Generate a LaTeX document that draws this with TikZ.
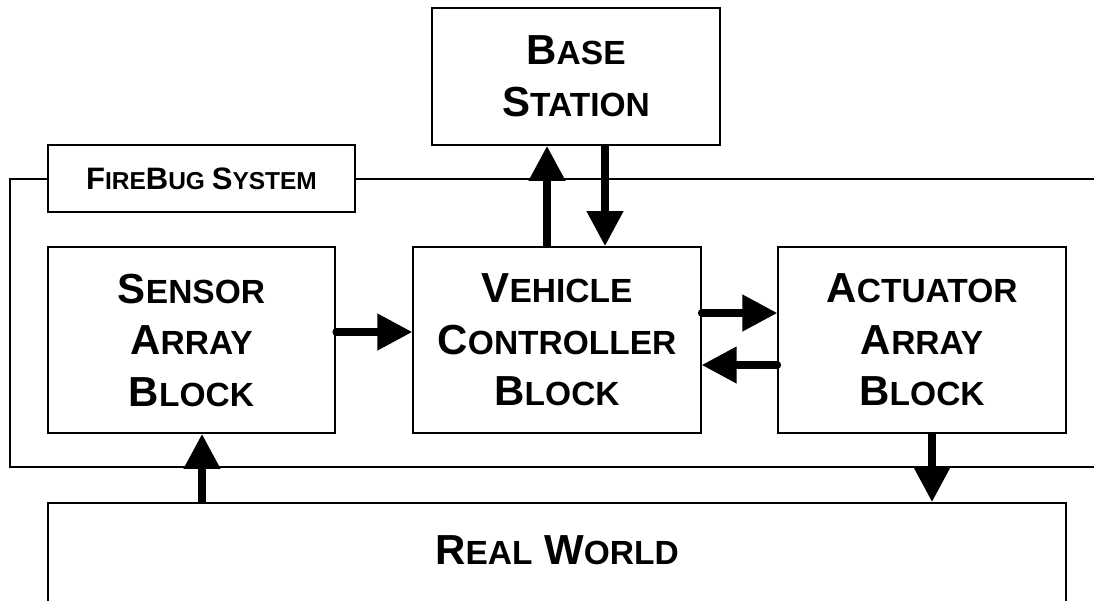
\documentclass[tikz,border=0pt]{standalone}
\usepackage{fontspec}
\setmainfont{Liberation Sans}
\usetikzlibrary{arrows.meta}

% fake small caps: full-size initials, reduced capitals for the rest
\newcommand\scbig{\fontsize{42}{51.5}\selectfont}
\newcommand\lowcaps[1]{{\fontsize{33.5}{51.5}\selectfont #1}}
\newcommand\sclabel{\fontsize{31}{36}\selectfont}
\newcommand\lowcapsx[1]{{\fontsize{24.5}{36}\selectfont #1}}

\begin{document}
\begin{tikzpicture}[x=1pt,y=-1pt,
  blockbox/.style={draw, line width=1.8pt, minimum width=287.5pt,
    minimum height=186pt, inner sep=0pt, align=center, font=\bfseries\scbig},
  framebox/.style={draw, line width=1.8pt, inner sep=0pt},
  flow/.style={line width=7.5pt, line cap=round,
    -{Triangle[length=35pt,width=35pt]}}]

\useasboundingbox (0,0) rectangle (1094,600);
\fill[white] (0,0) rectangle (1094,600);
\clip (0,0) rectangle (1094,600);

% system boundary, open to the right edge
\node[framebox, minimum width=1100pt, minimum height=288pt] (system) at (560,323) {};
\node[framebox, fill=white, minimum width=307pt, minimum height=67pt,
  font=\bfseries\sclabel] (syslabel) at (201.5,178.5)
  {F\lowcapsx{IRE}B\lowcapsx{UG }S\lowcapsx{YSTEM}};

% blocks
\node[blockbox, minimum height=137pt] (base) at (576,76.5)
  {B\lowcaps{ASE}\\S\lowcaps{TATION}};
\node[blockbox] (sensor) at (191.5,340)
  {S\lowcaps{ENSOR}\\A\lowcaps{RRAY}\\B\lowcaps{LOCK}};
\node[blockbox] (vehicle) at (557,340)
  {V\lowcaps{EHICLE}\\C\lowcaps{ONTROLLER}\\B\lowcaps{LOCK}};
\node[blockbox] (actuator) at (922,340)
  {A\lowcaps{CTUATOR}\\A\lowcaps{RRAY}\\B\lowcaps{LOCK}};
\node[draw, line width=1.8pt, anchor=north, inner sep=0pt, minimum width=1018pt,
  text height=62pt, text depth=80pt, font=\bfseries\scbig] (world) at (557,502)
  {R\lowcaps{EAL} W\lowcaps{ORLD}};

% data flow
\draw[flow] ([yshift=8]sensor.east) -- ([yshift=8]sensor.east -| vehicle.west);
\draw[flow] ([yshift=27]vehicle.east) -- ([yshift=27]vehicle.east -| actuator.west);
\draw[flow] ([yshift=-25]actuator.east -| actuator.west) -- ([yshift=-25]vehicle.east);
\draw[flow, line cap=butt] ([xshift=-10]vehicle.north) -- ([xshift=-10]vehicle.north |- base.south);
\draw[flow, line cap=butt] ([xshift=29]base.south) -- ([xshift=29]base.south |- vehicle.north);
\draw[flow, line cap=butt] ([xshift=10.5]sensor.south |- world.north) -- ([xshift=10.5]sensor.south);
\draw[flow, line cap=butt] ([xshift=10]actuator.south) -- ([xshift=10]actuator.south |- world.north);
\end{tikzpicture}
\end{document}
